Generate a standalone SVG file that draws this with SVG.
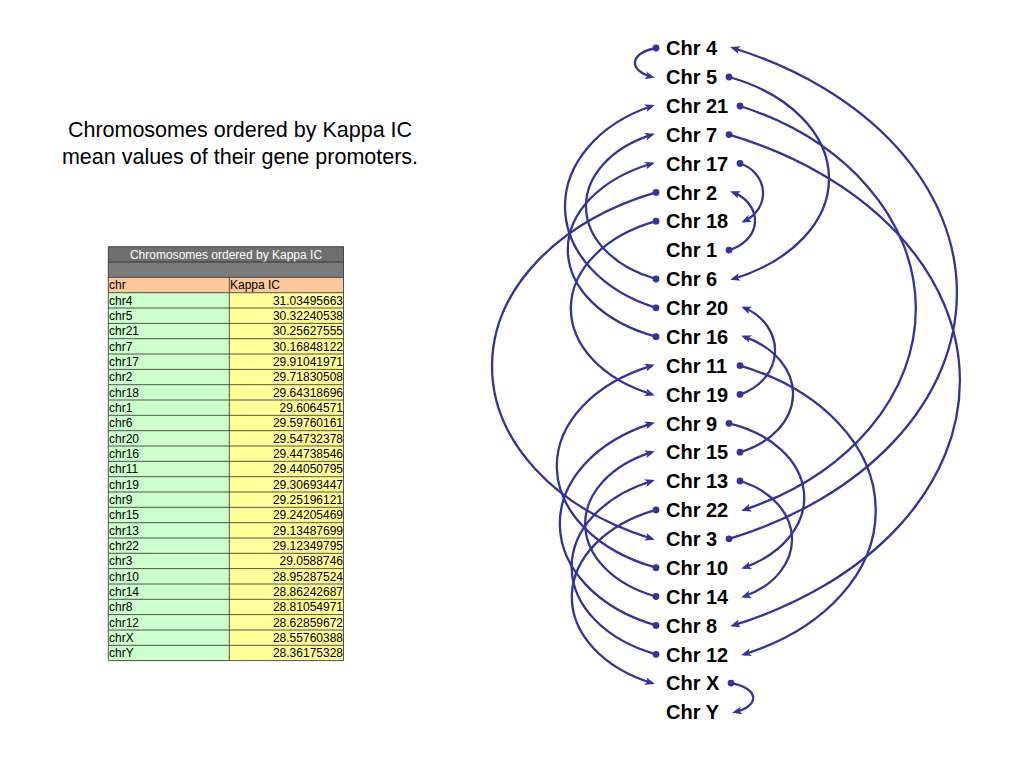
<svg xmlns="http://www.w3.org/2000/svg" width="1024" height="768" viewBox="0 0 1024 768">
<style>
.lbl{font-family:"Liberation Sans",Arial,sans-serif;font-weight:bold;font-size:20px;fill:#000}
.ttl{font-family:"Liberation Sans",Arial,sans-serif;font-size:21.5px;fill:#000;text-anchor:middle}
.tb{font-family:"Liberation Sans",Arial,sans-serif;font-size:12px;fill:#000}
.num{text-anchor:end}
.conn path{fill:none;stroke:#33339a;stroke-width:2.3;marker-start:url(#dot);marker-end:url(#arr)}
.grid{stroke:#2a2a2a;stroke-width:0.8}
</style>
<defs>
<marker id="arr" markerUnits="userSpaceOnUse" viewBox="0 0 10 8" refX="7" refY="4" markerWidth="10" markerHeight="8" orient="auto"><path d="M0,0 L10,4 L0,8 L2.5,4 z" fill="#33339a"/></marker>
<marker id="dot" markerUnits="userSpaceOnUse" viewBox="-4 -4 8 8" refX="0" refY="0" markerWidth="8" markerHeight="8"><circle r="3.4" fill="#33339a"/></marker>
</defs>
<rect width="1024" height="768" fill="#fff"/>
<text class="ttl" x="240" y="137">Chromosomes ordered by Kappa IC</text>
<text class="ttl" x="240" y="164">mean values of their gene promoters.</text>
<g id="table">
<rect x="108.3" y="246.7" width="235.2" height="15.3" fill="#6f6f6f"/>
<rect x="108.3" y="262" width="235.2" height="15.4" fill="#7b7b7b"/>
<rect x="108.3" y="277.4" width="235.2" height="15.3" fill="#fbc99b"/>
<rect x="108.3" y="292.7" width="121" height="367.9" fill="#ccffcc"/>
<rect x="229.3" y="292.7" width="114.2" height="367.9" fill="#ffff99"/>
<text x="226" y="259" style="font-family:'Liberation Sans',Arial,sans-serif;font-size:12px;fill:#fff;text-anchor:middle">Chromosomes ordered by Kappa IC</text>
<g class="grid">
<line x1="108.3" y1="246.7" x2="343.5" y2="246.7"/>
<line x1="108.3" y1="262" x2="343.5" y2="262"/>
<line x1="108.3" y1="277.4" x2="343.5" y2="277.4"/>
<line x1="108.3" y1="292.7" x2="343.5" y2="292.7"/>
<line x1="108.3" y1="308" x2="343.5" y2="308"/>
<line x1="108.3" y1="323.4" x2="343.5" y2="323.4"/>
<line x1="108.3" y1="338.7" x2="343.5" y2="338.7"/>
<line x1="108.3" y1="354" x2="343.5" y2="354"/>
<line x1="108.3" y1="369.4" x2="343.5" y2="369.4"/>
<line x1="108.3" y1="384.7" x2="343.5" y2="384.7"/>
<line x1="108.3" y1="400" x2="343.5" y2="400"/>
<line x1="108.3" y1="415.3" x2="343.5" y2="415.3"/>
<line x1="108.3" y1="430.7" x2="343.5" y2="430.7"/>
<line x1="108.3" y1="446" x2="343.5" y2="446"/>
<line x1="108.3" y1="461.3" x2="343.5" y2="461.3"/>
<line x1="108.3" y1="476.7" x2="343.5" y2="476.7"/>
<line x1="108.3" y1="492" x2="343.5" y2="492"/>
<line x1="108.3" y1="507.3" x2="343.5" y2="507.3"/>
<line x1="108.3" y1="522.7" x2="343.5" y2="522.7"/>
<line x1="108.3" y1="538" x2="343.5" y2="538"/>
<line x1="108.3" y1="553.3" x2="343.5" y2="553.3"/>
<line x1="108.3" y1="568.6" x2="343.5" y2="568.6"/>
<line x1="108.3" y1="584" x2="343.5" y2="584"/>
<line x1="108.3" y1="599.3" x2="343.5" y2="599.3"/>
<line x1="108.3" y1="614.6" x2="343.5" y2="614.6"/>
<line x1="108.3" y1="630" x2="343.5" y2="630"/>
<line x1="108.3" y1="645.3" x2="343.5" y2="645.3"/>
<line x1="108.3" y1="660.6" x2="343.5" y2="660.6"/>
<line x1="108.3" y1="246.7" x2="108.3" y2="660.6"/>
<line x1="343.5" y1="246.7" x2="343.5" y2="660.6"/>
<line x1="229.3" y1="277.4" x2="229.3" y2="660.6"/>
</g>
<g class="tb">
<text x="109" y="289.3">chr</text><text x="230" y="289.3">Kappa IC</text>
<text x="109" y="304.6">chr4</text><text class="num" x="343" y="304.6">31.03495663</text>
<text x="109" y="320">chr5</text><text class="num" x="343" y="320">30.32240538</text>
<text x="109" y="335.3">chr21</text><text class="num" x="343" y="335.3">30.25627555</text>
<text x="109" y="350.6">chr7</text><text class="num" x="343" y="350.6">30.16848122</text>
<text x="109" y="366">chr17</text><text class="num" x="343" y="366">29.91041971</text>
<text x="109" y="381.3">chr2</text><text class="num" x="343" y="381.3">29.71830508</text>
<text x="109" y="396.6">chr18</text><text class="num" x="343" y="396.6">29.64318696</text>
<text x="109" y="412">chr1</text><text class="num" x="343" y="412">29.6064571</text>
<text x="109" y="427.3">chr6</text><text class="num" x="343" y="427.3">29.59760161</text>
<text x="109" y="442.6">chr20</text><text class="num" x="343" y="442.6">29.54732378</text>
<text x="109" y="458">chr16</text><text class="num" x="343" y="458">29.44738546</text>
<text x="109" y="473.3">chr11</text><text class="num" x="343" y="473.3">29.44050795</text>
<text x="109" y="488.6">chr19</text><text class="num" x="343" y="488.6">29.30693447</text>
<text x="109" y="504">chr9</text><text class="num" x="343" y="504">29.25196121</text>
<text x="109" y="519.3">chr15</text><text class="num" x="343" y="519.3">29.24205469</text>
<text x="109" y="534.6">chr13</text><text class="num" x="343" y="534.6">29.13487699</text>
<text x="109" y="550">chr22</text><text class="num" x="343" y="550">29.12349795</text>
<text x="109" y="565.3">chr3</text><text class="num" x="343" y="565.3">29.0588746</text>
<text x="109" y="580.6">chr10</text><text class="num" x="343" y="580.6">28.95287524</text>
<text x="109" y="596">chr14</text><text class="num" x="343" y="596">28.86242687</text>
<text x="109" y="611.3">chr8</text><text class="num" x="343" y="611.3">28.81054971</text>
<text x="109" y="626.6">chr12</text><text class="num" x="343" y="626.6">28.62859672</text>
<text x="109" y="642">chrX</text><text class="num" x="343" y="642">28.55760388</text>
<text x="109" y="657.3">chrY</text><text class="num" x="343" y="657.3">28.36175328</text>
</g>
</g>
<g id="connectors" class="conn">
<path d="M729,250.1 A39.5,31.4 0 0 0 733,192.4"/>
<path d="M656,192.4 A266.5,188.3 0 0 0 652,538.8"/>
<path d="M729,538.8 A371.8,266.8 0 0 0 733,48"/>
<path d="M656,48 A31.3,15.8 0 0 0 652,77"/>
<path d="M729,77 A161.2,109.8 0 0 1 733,279"/>
<path d="M656,279 A111.9,78.5 0 0 1 652,134.6"/>
<path d="M729,134.6 A376.7,266.8 0 0 1 733,625.4"/>
<path d="M656,625.4 A154.6,109.8 0 0 1 652,423.3"/>
<path d="M729,423.3 A110.2,78.5 0 0 1 744,567.7"/>
<path d="M656,567.7 A159.6,109.8 0 0 1 652,365.6"/>
<path d="M740,365.6 A220.4,157 0 0 1 744,654.3"/>
<path d="M656,654.3 A134.9,94.1 0 0 1 652,481"/>
<path d="M740,481 A82.3,62.8 0 0 1 744,596.5"/>
<path d="M656,596.5 A113.5,78.5 0 0 1 652,452.2"/>
<path d="M740,452.2 A83.9,62.8 0 0 0 744,336.7"/>
<path d="M656,336.7 A141.5,94.1 0 0 1 652,163.5"/>
<path d="M740,163.5 A34.5,31.4 0 0 1 744,221.2"/>
<path d="M656,221.2 A136.5,94.1 0 0 0 652,394.4"/>
<path d="M740,394.4 A54.3,47.1 0 0 0 744,307.8"/>
<path d="M656,307.8 A146.4,109.7 0 0 1 652,106"/>
<path d="M740,106 A286.2,219.6 0 0 1 744,509.9"/>
<path d="M656,509.9 A134.9,94.1 0 0 0 652,683.1"/>
<path d="M731,683.1 A32.9,15.7 0 0 1 735,712"/>
</g>
<g id="node-chr4"><text class="lbl" x="666" y="55.2">Chr 4</text></g>
<g id="node-chr5"><text class="lbl" x="666" y="84.1">Chr 5</text></g>
<g id="node-chr21"><text class="lbl" x="666" y="113">Chr 21</text></g>
<g id="node-chr7"><text class="lbl" x="666" y="141.8">Chr 7</text></g>
<g id="node-chr17"><text class="lbl" x="666" y="170.7">Chr 17</text></g>
<g id="node-chr2"><text class="lbl" x="666" y="199.6">Chr 2</text></g>
<g id="node-chr18"><text class="lbl" x="666" y="228.4">Chr 18</text></g>
<g id="node-chr1"><text class="lbl" x="666" y="257.3">Chr 1</text></g>
<g id="node-chr6"><text class="lbl" x="666" y="286.2">Chr 6</text></g>
<g id="node-chr20"><text class="lbl" x="666" y="315">Chr 20</text></g>
<g id="node-chr16"><text class="lbl" x="666" y="343.9">Chr 16</text></g>
<g id="node-chr11"><text class="lbl" x="666" y="372.8">Chr 11</text></g>
<g id="node-chr19"><text class="lbl" x="666" y="401.6">Chr 19</text></g>
<g id="node-chr9"><text class="lbl" x="666" y="430.5">Chr 9</text></g>
<g id="node-chr15"><text class="lbl" x="666" y="459.4">Chr 15</text></g>
<g id="node-chr13"><text class="lbl" x="666" y="488.2">Chr 13</text></g>
<g id="node-chr22"><text class="lbl" x="666" y="517.1">Chr 22</text></g>
<g id="node-chr3"><text class="lbl" x="666" y="546">Chr 3</text></g>
<g id="node-chr10"><text class="lbl" x="666" y="574.9">Chr 10</text></g>
<g id="node-chr14"><text class="lbl" x="666" y="603.7">Chr 14</text></g>
<g id="node-chr8"><text class="lbl" x="666" y="632.6">Chr 8</text></g>
<g id="node-chr12"><text class="lbl" x="666" y="661.5">Chr 12</text></g>
<g id="node-chrX"><text class="lbl" x="666" y="690.3">Chr X</text></g>
<g id="node-chrY"><text class="lbl" x="666" y="719.2">Chr Y</text></g>
</svg>
